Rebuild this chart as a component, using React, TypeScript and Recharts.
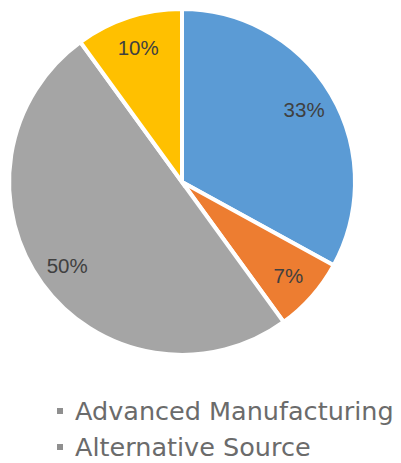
import { PieChart, Pie, Cell } from 'recharts';

const categories = ['Advanced Manufacturing', 'Alternative Source', 'Category 3', 'Category 4'];
const shares = [33, 7, 50, 10];
const colors = ['#5b9bd5', '#ed7d31', '#a5a5a5', '#ffc000'];
// only the first two legend entries are visible in the picture
const legendItems = categories.slice(0, 2);

const data = categories.map((name, i) => ({ name, value: shares[i] }));

const RAD = Math.PI / 180;

function renderLabel(props: any) {
  const { cx, cy, midAngle, outerRadius, value } = props;
  const r = outerRadius * 0.82;
  const x = cx + r * Math.cos(-midAngle * RAD);
  const y = cy + r * Math.sin(-midAngle * RAD);
  return (
    <text x={x} y={y} fill="#404040" fontSize={20.5} fontFamily="'Liberation Sans', Arial, sans-serif" textAnchor="middle" dominantBaseline="central">
      {value}%
    </text>
  );
}

export default function App() {
  return (
    <div style={{ position: 'absolute', left: 0, top: 0, width: 401, height: 463, background: '#fff' }}>
      <PieChart width={401} height={380} margin={{ top: 0, right: 0, bottom: 0, left: 0 }}>
        <Pie
          data={data}
          dataKey="value"
          nameKey="name"
          cx={182}
          cy={182}
          outerRadius={173}
          startAngle={90}
          endAngle={-270}
          stroke="#ffffff"
          strokeWidth={4}
          label={renderLabel}
          labelLine={false}
          isAnimationActive={false}
        >
          {data.map((d, i) => (
            <Cell key={d.name} fill={colors[i]} />
          ))}
        </Pie>
      </PieChart>
      <div
        style={{
          position: 'absolute',
          top: 393,
          left: 57,
          fontFamily: "'DejaVu Sans', sans-serif",
          color: '#6b6b6b',
          fontSize: 25.5,
          whiteSpace: 'nowrap',
        }}
      >
        {legendItems.map((name) => (
          <div key={name} style={{ display: 'flex', alignItems: 'center', height: 36 }}>
            <span style={{ display: 'inline-block', width: 6, height: 6, background: '#8f8f8f', marginRight: 12 }} />
            <span>{name}</span>
          </div>
        ))}
      </div>
    </div>
  );
}
